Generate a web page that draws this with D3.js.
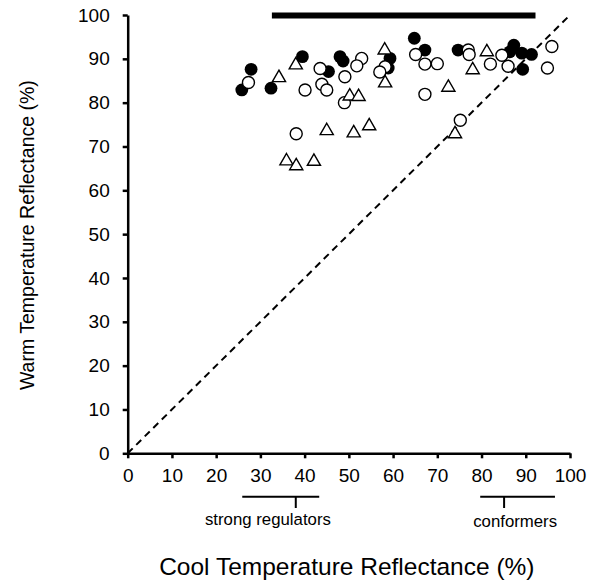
<!DOCTYPE html>
<html>
<head>
<meta charset="utf-8">
<script src="https://cdn.jsdelivr.net/npm/d3@7"></script>
<style>
body { margin: 0; background: #fff; }
svg text { font-family: "Liberation Sans", Arial, sans-serif; fill: #000; }
</style>
</head>
<body>
<script>
// cool (x) vs warm (y) reflectance
var filledCool = [25.8, 27.9, 32.4, 39.5, 45.4, 48.0, 48.7, 59.3, 58.9, 64.8, 67.2, 74.7, 86.4, 87.3, 89.1, 91.3, 89.3];
var filledWarm = [82.9, 87.6, 83.3, 90.5, 87.1, 90.5, 89.5, 90.1, 87.9, 94.7, 92.0, 92.0, 91.6, 93.1, 91.3, 91.0, 87.6];

var openCool = [27.3, 43.5, 40.1, 43.9, 45.0, 38.1, 52.9, 51.8, 49.1, 49.0, 58.2, 57.0, 65.1, 67.2, 70.0, 67.2, 75.2, 77.0, 77.2, 82.0, 84.6, 86.0, 95.9, 94.9];
var openWarm = [84.6, 87.8, 82.9, 84.2, 82.9, 72.9, 90.1, 88.4, 85.9, 80.0, 88.2, 87.0, 91.0, 88.8, 88.9, 81.9, 76.0, 92.0, 91.0, 88.8, 90.8, 88.3, 92.8, 87.9];

var triCool = [34.2, 38.0, 45.0, 35.9, 38.1, 42.1, 50.2, 52.2, 51.1, 54.6, 58.1, 58.2, 72.5, 74.0, 78.0, 81.2];
var triWarm = [85.9, 88.8, 73.8, 66.9, 65.8, 66.8, 81.7, 81.6, 73.3, 74.9, 92.2, 84.7, 83.7, 73.1, 87.7, 91.8];

var ticks = [0, 10, 20, 30, 40, 50, 60, 70, 80, 90, 100];
var topBar = [32.6, 92.2];                  // thick bar at y = 100
var regulators = [25.9, 43.3, 38.0, 31.7];  // from, to, tick, label centre
var conformers = [79.7, 96.6, 85.1, 87.6];

var width = 596, height = 582;

var svg = d3.select("body").append("svg")
    .attr("width", width)
    .attr("height", height);

var x = d3.scaleLinear().domain([0, 100]).range([127.7, 570]);
var y = d3.scaleLinear().domain([0, 100]).range([453.3, 15]);

// 1:1 line
svg.append("line")
    .attr("x1", x(0)).attr("y1", y(0))
    .attr("x2", x(100)).attr("y2", y(100))
    .attr("stroke", "#000")
    .attr("stroke-width", 2)
    .attr("stroke-dasharray", "7,5");

// axes
var xAxis = svg.append("g")
    .attr("transform", "translate(0," + y(0) + ")")
    .call(d3.axisBottom(x).tickValues(ticks).tickSize(5).tickPadding(10).tickSizeOuter(0));
var yAxis = svg.append("g")
    .attr("transform", "translate(" + x(0) + ",0)")
    .call(d3.axisLeft(y).tickValues(ticks).tickSize(5).tickPadding(13).tickSizeOuter(0));

[xAxis, yAxis].forEach(function (g) {
    g.select(".domain").attr("stroke", "#000").attr("stroke-width", 2.5);
    g.selectAll(".tick line").attr("stroke", "#000").attr("stroke-width", 2.5);
    g.selectAll(".tick text")
        .attr("font-size", 19)
        .style("font-family", "'Liberation Sans', Arial, sans-serif");
});

// top bar
svg.append("line")
    .attr("x1", x(topBar[0])).attr("x2", x(topBar[1]))
    .attr("y1", y(100) + 0.5).attr("y2", y(100) + 0.5)
    .attr("stroke", "#000")
    .attr("stroke-width", 6);

// points
svg.selectAll("circle.filled")
    .data(d3.zip(filledCool, filledWarm))
    .enter().append("circle")
    .attr("class", "filled")
    .attr("cx", function (d) { return x(d[0]); })
    .attr("cy", function (d) { return y(d[1]); })
    .attr("r", 6.4)
    .attr("fill", "#000");

svg.selectAll("circle.open")
    .data(d3.zip(openCool, openWarm))
    .enter().append("circle")
    .attr("class", "open")
    .attr("cx", function (d) { return x(d[0]); })
    .attr("cy", function (d) { return y(d[1]); })
    .attr("r", 6)
    .attr("fill", "#fff")
    .attr("stroke", "#000")
    .attr("stroke-width", 1.4);

var tri = d3.symbol().type(d3.symbolTriangle).size(75);
svg.selectAll("path.tri")
    .data(d3.zip(triCool, triWarm))
    .enter().append("path")
    .attr("class", "tri")
    .attr("transform", function (d) { return "translate(" + x(d[0]) + "," + (y(d[1]) + 1) + ")"; })
    .attr("d", tri)
    .attr("fill", "#fff")
    .attr("stroke", "#000")
    .attr("stroke-width", 1.4);

// brackets under x axis
function bracket(r, label, baseline) {
    svg.append("line")
        .attr("x1", x(r[0])).attr("x2", x(r[1]))
        .attr("y1", 496.7).attr("y2", 496.7)
        .attr("stroke", "#000").attr("stroke-width", 2);
    svg.append("line")
        .attr("x1", x(r[2])).attr("x2", x(r[2]))
        .attr("y1", 496.7).attr("y2", 508)
        .attr("stroke", "#000").attr("stroke-width", 2);
    svg.append("text")
        .attr("x", x(r[3]))
        .attr("y", baseline)
        .attr("text-anchor", "middle")
        .attr("font-size", 16.8)
        .text(label);
}
bracket(regulators, "strong regulators", 525);
bracket(conformers, "conformers", 526.5);

// axis titles
svg.append("text")
    .attr("x", (x(0) + x(100)) / 2 - 2)
    .attr("y", 575)
    .attr("text-anchor", "middle")
    .attr("font-size", 24.5)
    .text("Cool Temperature Reflectance (%)");

svg.append("text")
    .attr("transform", "translate(34," + (y(50) + 1) + ") rotate(-90)")
    .attr("text-anchor", "middle")
    .attr("font-size", 19.5)
    .text("Warm Temperature Reflectance (%)");
</script>
</body>
</html>
